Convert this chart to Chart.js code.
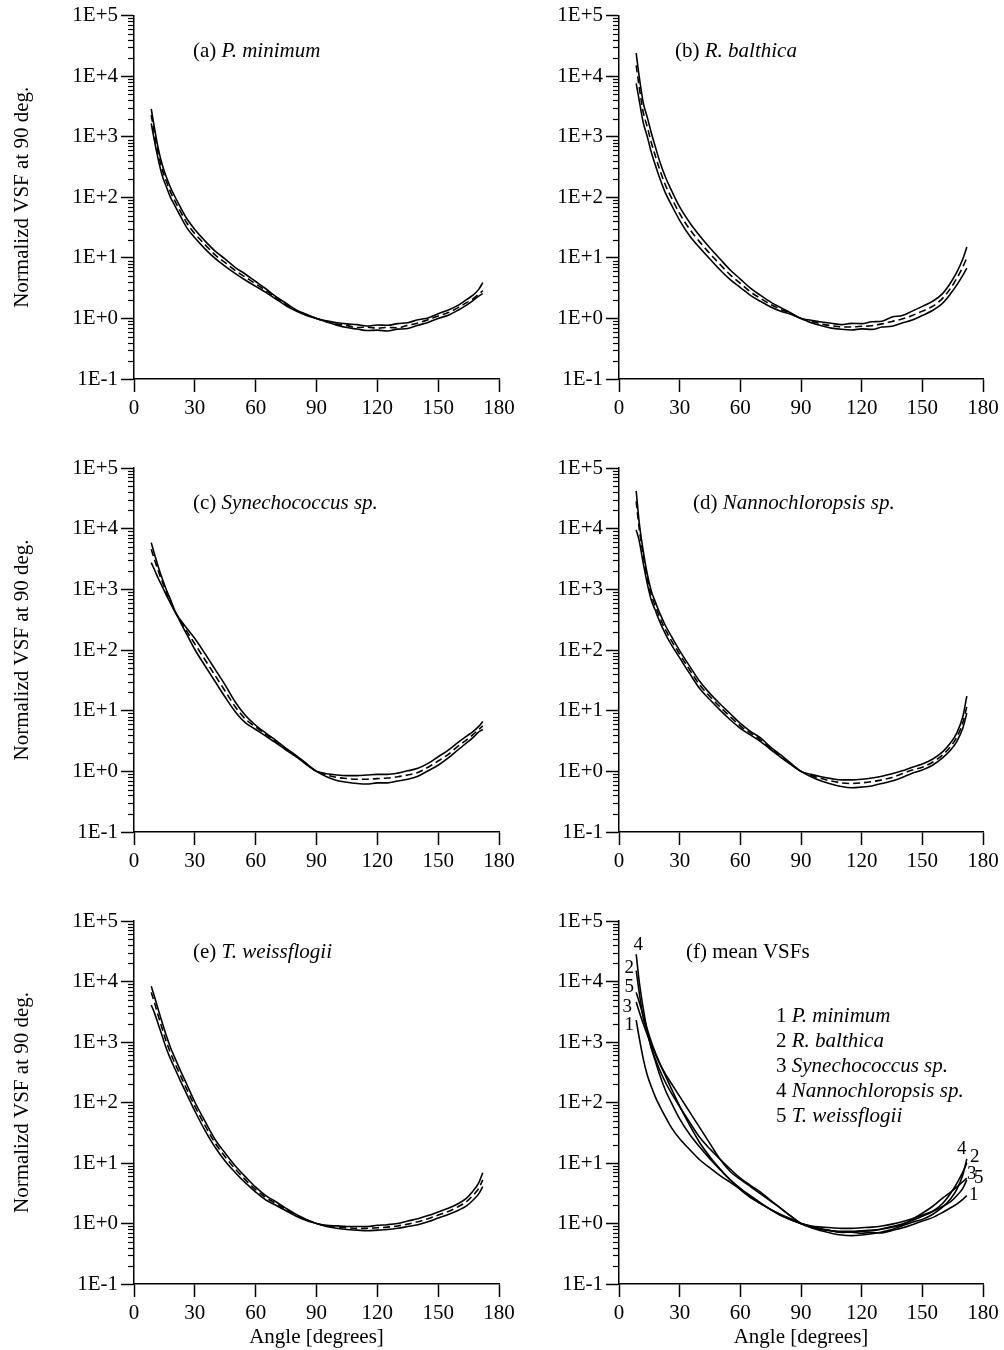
<!DOCTYPE html>
<html>
<head>
<meta charset="utf-8">
<title>Normalized VSFs</title>
<script src="https://cdn.jsdelivr.net/npm/chart.js@4.4.1/dist/chart.umd.min.js"></script>
<style>
  body { margin: 0; background: #fff; }
  #page { position: relative; width: 1004px; height: 1350px; overflow: hidden; background: #fff; }
  #page canvas { position: absolute; }
</style>
</head>
<body>
<div id="page"></div>
<script>
// scattering angles [degrees]
const ANGLES = [8.5, 10, 12, 14, 16, 18, 20, 23, 26, 30, 35, 40, 45, 50, 55, 60, 65, 70, 75, 80,
  85, 90, 95, 100, 105, 110, 115, 120, 125, 130, 135, 140, 145, 150, 155, 160, 164, 167, 170, 172];

const SPECIES = ["P. minimum", "R. balthica", "Synechococcus sp.", "Nannochloropsis sp.", "T. weissflogii"];
const X_TICKS = [0, 30, 60, 90, 120, 150, 180];
const Y_DECADE_LABELS = ["1E-1", "1E+0", "1E+1", "1E+2", "1E+3", "1E+4", "1E+5"];

// (a) P. minimum
const minimumHigh = [2880, 1450, 631, 339, 214, 145, 105, 67.6, 44.7, 29.5, 19.1, 12.9, 9.55, 6.92, 5.37, 4.07, 3.09, 2.29, 1.78, 1.38,
  1.17, 1.0, 0.912, 0.851, 0.813, 0.79, 0.75, 0.78, 0.77, 0.82, 0.85, 0.95, 1.02, 1.20, 1.38, 1.66, 2.04, 2.40, 3.02, 3.89];
const minimumMean = [2290, 1175, 525, 282, 182, 123, 89.1, 57.5, 38.0, 25.1, 16.6, 11.2, 8.32, 6.17, 4.79, 3.72, 2.88, 2.19, 1.70, 1.35,
  1.15, 1.0, 0.89, 0.81, 0.76, 0.71, 0.72, 0.69, 0.71, 0.70, 0.77, 0.84, 0.95, 1.10, 1.25, 1.52, 1.82, 2.09, 2.51, 2.88];
const minimumLow = [1660, 891, 417, 224, 148, 100, 74.1, 47.9, 31.6, 21.4, 14.1, 9.77, 7.24, 5.50, 4.27, 3.39, 2.69, 2.09, 1.62, 1.32,
  1.12, 1.0, 0.871, 0.776, 0.708, 0.668, 0.631, 0.64, 0.62, 0.665, 0.68, 0.77, 0.86, 1.0, 1.13, 1.38, 1.66, 1.95, 2.34, 2.57];

// (b) R. balthica
const balthicaHigh = [24000, 9770, 3630, 2090, 1150, 676, 407, 214, 129, 69.2, 38.0, 22.9, 14.5, 9.55, 6.31, 4.47, 3.16, 2.40, 1.86, 1.51,
  1.23, 1.0, 0.933, 0.871, 0.832, 0.79, 0.83, 0.82, 0.88, 0.90, 1.06, 1.12, 1.32, 1.58, 1.91, 2.57, 3.89, 5.75, 9.55, 15.1];
const balthicaMean = [15100, 6610, 2510, 1450, 794, 479, 295, 158, 97.7, 53.7, 29.5, 18.2, 11.7, 7.76, 5.25, 3.80, 2.75, 2.14, 1.70, 1.41,
  1.20, 1.0, 0.891, 0.813, 0.759, 0.724, 0.724, 0.741, 0.759, 0.813, 0.891, 0.977, 1.12, 1.32, 1.58, 2.14, 3.16, 4.57, 7.08, 10.0];
const balthicaLow = [7590, 3980, 1700, 1000, 550, 339, 214, 117, 74.1, 41.7, 22.9, 14.5, 9.55, 6.31, 4.37, 3.24, 2.40, 1.91, 1.55, 1.32,
  1.17, 1.0, 0.851, 0.759, 0.692, 0.661, 0.646, 0.672, 0.66, 0.72, 0.745, 0.84, 0.94, 1.12, 1.35, 1.78, 2.57, 3.55, 5.13, 6.76];

// (c) Synechococcus sp. (the outer curves cross near 22 deg)
const synechoA = [5890, 3890, 2340, 1480, 977, 676, 457, 282, 182, 102, 55.0, 30.2, 16.6, 9.55, 6.31, 4.90, 3.80, 2.95, 2.24, 1.74,
  1.29, 1.0, 0.813, 0.708, 0.661, 0.631, 0.617, 0.646, 0.646, 0.692, 0.741, 0.832, 1.02, 1.26, 1.66, 2.29, 2.95, 3.55, 4.47, 4.90];
const synechoMean = [4570, 3160, 2000, 1320, 891, 631, 447, 295, 204, 126, 69.2, 38.0, 20.9, 11.5, 7.24, 5.37, 4.07, 3.09, 2.34, 1.78,
  1.32, 1.0, 0.871, 0.794, 0.759, 0.741, 0.741, 0.759, 0.776, 0.813, 0.871, 0.955, 1.17, 1.48, 1.91, 2.63, 3.31, 3.98, 4.90, 5.62];
const synechoB = [2750, 2140, 1510, 1100, 794, 589, 437, 309, 229, 155, 87.1, 47.9, 26.3, 13.8, 8.32, 5.75, 4.27, 3.24, 2.40, 1.82,
  1.35, 1.0, 0.912, 0.871, 0.851, 0.851, 0.871, 0.891, 0.891, 0.933, 1.02, 1.12, 1.35, 1.74, 2.24, 3.02, 3.80, 4.47, 5.50, 6.61];

// (d) Nannochloropsis sp.
const nannoHigh = [41700, 12600, 4270, 1780, 933, 617, 417, 251, 166, 97.7, 53.7, 30.2, 19.1, 12.9, 8.91, 6.17, 4.57, 3.55, 2.51, 1.86,
  1.35, 1.0, 0.891, 0.813, 0.759, 0.724, 0.724, 0.741, 0.776, 0.832, 0.912, 1.02, 1.17, 1.32, 1.58, 2.09, 2.95, 4.27, 7.94, 17.4];
const nannoMean = [28200, 10000, 3550, 1510, 794, 525, 355, 214, 141, 85.1, 46.8, 26.3, 17.0, 11.5, 7.94, 5.62, 4.27, 3.31, 2.40, 1.78,
  1.32, 1.0, 0.851, 0.759, 0.692, 0.646, 0.631, 0.646, 0.676, 0.724, 0.794, 0.912, 1.05, 1.17, 1.41, 1.86, 2.57, 3.63, 6.31, 11.7];
const nannoLow = [9550, 6310, 2690, 1230, 661, 447, 302, 182, 120, 74.1, 40.7, 22.9, 15.1, 10.2, 7.08, 5.13, 3.98, 3.09, 2.29, 1.70,
  1.29, 1.0, 0.813, 0.692, 0.617, 0.562, 0.537, 0.550, 0.575, 0.631, 0.692, 0.794, 0.933, 1.05, 1.26, 1.66, 2.24, 3.09, 5.13, 9.12];

// (e) T. weissflogii
const weissHigh = [8320, 5750, 3390, 2040, 1260, 813, 562, 331, 200, 102, 49.0, 24.5, 14.5, 8.91, 5.89, 3.98, 2.88, 2.29, 1.78, 1.41,
  1.17, 1.0, 0.933, 0.912, 0.891, 0.891, 0.891, 0.933, 0.955, 1.0, 1.10, 1.20, 1.35, 1.55, 1.78, 2.14, 2.63, 3.39, 4.68, 6.92];
const weissMean = [6610, 4570, 2690, 1620, 1000, 661, 457, 275, 166, 87.1, 41.7, 21.4, 12.6, 7.94, 5.25, 3.63, 2.69, 2.14, 1.70, 1.38,
  1.15, 1.0, 0.912, 0.871, 0.851, 0.832, 0.832, 0.851, 0.871, 0.912, 0.977, 1.07, 1.20, 1.38, 1.58, 1.91, 2.29, 2.88, 3.80, 5.25];
const weissLow = [4070, 3090, 1950, 1230, 776, 525, 372, 224, 138, 72.4, 34.7, 18.2, 10.7, 6.92, 4.68, 3.31, 2.45, 2.0, 1.62, 1.32,
  1.12, 1.0, 0.891, 0.832, 0.794, 0.776, 0.759, 0.776, 0.794, 0.832, 0.891, 0.955, 1.07, 1.23, 1.41, 1.66, 1.95, 2.40, 3.09, 4.07];

const FONT = '"Liberation Serif", "Times New Roman", serif';
const FONT_SIZE = 21;

function isDecade(v) {
  const e = Math.log10(v);
  return Math.abs(e - Math.round(e)) < 1e-9;
}

function decadeLabel(v) {
  if (!isDecade(v)) return "";
  return Y_DECADE_LABELS[Math.round(Math.log10(v)) + 1] || "";
}

function toPoints(values) {
  return values.map((v, i) => ({ x: ANGLES[i], y: v }));
}

// short minor ticks (2..9 per decade) on the log axis
const minorTicks = {
  id: "minorTicks",
  afterDraw(chart) {
    const y = chart.scales.y;
    const ctx = chart.ctx;
    ctx.save();
    ctx.strokeStyle = "#000";
    ctx.lineWidth = 1.2;
    for (let e = -1; e < 5; e++) {
      for (let m = 2; m <= 9; m++) {
        const py = Math.round(y.getPixelForValue(m * Math.pow(10, e))) + 0.5;
        ctx.beginPath();
        ctx.moveTo(y.right - 6, py);
        ctx.lineTo(y.right, py);
        ctx.stroke();
      }
    }
    ctx.restore();
  },
};

// panel captions and legend lines (mixed roman / italic)
const panelText = {
  id: "panelText",
  afterDraw(chart, args, opts) {
    if (!opts.lines) return;
    const area = chart.chartArea;
    const ctx = chart.ctx;
    ctx.save();
    ctx.fillStyle = "#000";
    ctx.textBaseline = "middle";
    ctx.textAlign = "left";
    opts.lines.forEach((line) => {
      let x = area.left + line.dx;
      const y = area.top + line.dy;
      line.parts.forEach(([text, italic]) => {
        ctx.font = (italic ? "italic " : "") + FONT_SIZE + "px " + FONT;
        ctx.fillText(text, x, y);
        x += ctx.measureText(text).width;
      });
    });
    ctx.restore();
  },
};

// curve numbers at both ends of the mean curves in (f)
const curveNumbers = {
  id: "curveNumbers",
  afterDatasetsDraw(chart, args, opts) {
    if (!opts.start) return;
    const ctx = chart.ctx;
    ctx.save();
    ctx.fillStyle = "#000";
    ctx.font = "19px " + FONT;
    ctx.textAlign = "center";
    ctx.textBaseline = "middle";
    chart.data.datasets.forEach((ds, i) => {
      const pts = chart.getDatasetMeta(i).data;
      const first = pts[0];
      const last = pts[pts.length - 1];
      ctx.fillText(ds.label, first.x + opts.start[i][0], first.y + opts.start[i][1]);
      ctx.fillText(ds.label, last.x + opts.end[i][0], last.y + opts.end[i][1]);
    });
    ctx.restore();
  },
};

const bandSeries = (high, mean, low) => [
  { label: "high", data: high },
  { label: "mean", data: mean, dash: true },
  { label: "low", data: low },
];

const panels = [
  { id: "vsf-a", left: 0, top: 0, width: 530, height: 440, padTop: 15, padRight: 31, yAxisWidth: 134, xAxisHeight: 61,
    yTitle: true, xTitle: false, caption: [["(a) ", false], [SPECIES[0], true]], capPos: [59, 36],
    series: bandSeries(minimumHigh, minimumMean, minimumLow) },
  { id: "vsf-b", left: 500, top: 0, width: 504, height: 440, padTop: 15, padRight: 21, yAxisWidth: 119, xAxisHeight: 61,
    yTitle: false, xTitle: false, caption: [["(b) ", false], [SPECIES[1], true]], capPos: [56, 36],
    series: bandSeries(balthicaHigh, balthicaMean, balthicaLow) },
  { id: "vsf-c", left: 0, top: 440, width: 530, height: 450, padTop: 28, padRight: 31, yAxisWidth: 134, xAxisHeight: 58,
    yTitle: true, xTitle: false, caption: [["(c) ", false], [SPECIES[2], true]], capPos: [59, 35],
    series: bandSeries(synechoA, synechoMean, synechoB) },
  { id: "vsf-d", left: 500, top: 440, width: 504, height: 450, padTop: 28, padRight: 21, yAxisWidth: 119, xAxisHeight: 58,
    yTitle: false, xTitle: false, caption: [["(d) ", false], [SPECIES[3], true]], capPos: [74, 35],
    series: bandSeries(nannoHigh, nannoMean, nannoLow) },
  { id: "vsf-e", left: 0, top: 890, width: 530, height: 460, padTop: 31, padRight: 31, yAxisWidth: 134, xAxisHeight: 66,
    yTitle: true, xTitle: true, caption: [["(e) ", false], [SPECIES[4], true]], capPos: [59, 31],
    series: bandSeries(weissHigh, weissMean, weissLow) },
  { id: "vsf-f", left: 500, top: 890, width: 504, height: 460, padTop: 31, padRight: 21, yAxisWidth: 119, xAxisHeight: 66,
    yTitle: false, xTitle: true, caption: [["(f) mean VSFs", false]], capPos: [67, 31],
    series: [
      { label: "1", data: minimumMean },
      { label: "2", data: balthicaMean },
      { label: "3", data: synechoMean },
      { label: "4", data: nannoMean },
      { label: "5", data: weissMean },
    ],
    legend: true },
];

function buildChart(panel) {
  const canvas = document.createElement("canvas");
  canvas.id = panel.id;
  canvas.width = panel.width;
  canvas.height = panel.height;
  canvas.style.left = panel.left + "px";
  canvas.style.top = panel.top + "px";
  document.getElementById("page").appendChild(canvas);

  const textLines = [{ dx: panel.capPos[0], dy: panel.capPos[1], parts: panel.caption }];
  if (panel.legend) {
    SPECIES.forEach((name, i) => {
      textLines.push({ dx: 157, dy: 95 + i * 25.2, parts: [[(i + 1) + " ", false], [name, true]] });
    });
  }

  const tickFont = { family: FONT, size: FONT_SIZE };

  new Chart(canvas, {
    type: "line",
    data: {
      datasets: panel.series.map((s) => ({
        label: s.label,
        data: toPoints(s.data),
        borderColor: "#000",
        borderWidth: 1.6,
        borderDash: s.dash ? [7, 4] : [],
        pointRadius: 0,
        fill: false,
        cubicInterpolationMode: "monotone",
      })),
    },
    options: {
      responsive: false,
      animation: false,
      devicePixelRatio: 1,
      layout: { padding: { top: panel.padTop, right: panel.padRight, left: 0, bottom: 0 } },
      plugins: {
        legend: { display: false },
        tooltip: { enabled: false },
        panelText: { lines: textLines },
        curveNumbers: panel.legend
          ? {
              start: [[-7, 5], [-7, -3], [-9, 5], [2, -9], [-7, -5]],
              end: [[7, -1], [8, -6], [5, -4], [-5, -10], [12, -2]],
            }
          : {},
      },
      scales: {
        x: {
          type: "linear",
          min: X_TICKS[0],
          max: X_TICKS[X_TICKS.length - 1],
          afterBuildTicks: (scale) => {
            scale.ticks = X_TICKS.map((v) => ({ value: v }));
          },
          ticks: { font: tickFont, color: "#000", padding: 4, maxRotation: 0, autoSkip: false },
          grid: { drawOnChartArea: false, tickLength: 13, tickColor: "#000", tickWidth: 1.5 },
          border: { display: true, color: "#000", width: 1.5 },
          title: {
            display: panel.xTitle,
            text: "Angle [degrees]",
            font: tickFont,
            color: "#000",
            padding: { top: 4, bottom: 0 },
          },
          afterFit: (scale) => {
            scale.height = panel.xAxisHeight;
          },
        },
        y: {
          type: "logarithmic",
          min: 0.1,
          max: 1e5,
          ticks: { callback: (v) => decadeLabel(v), font: tickFont, color: "#000", padding: 3, autoSkip: false },
          grid: {
            drawOnChartArea: false,
            tickLength: 13,
            tickWidth: 1.5,
            tickColor: (c) => (c.tick && isDecade(c.tick.value) ? "#000" : "rgba(0,0,0,0)"),
          },
          border: { display: true, color: "#000", width: 1.5 },
          title: {
            display: panel.yTitle,
            text: "Normalizd VSF at 90 deg.",
            font: tickFont,
            color: "#000",
            padding: { top: 10, bottom: 0 },
          },
          afterFit: (scale) => {
            scale.width = panel.yAxisWidth;
          },
        },
      },
    },
    plugins: [minorTicks, panelText, curveNumbers],
  });
}

panels.forEach(buildChart);
</script>
</body>
</html>
